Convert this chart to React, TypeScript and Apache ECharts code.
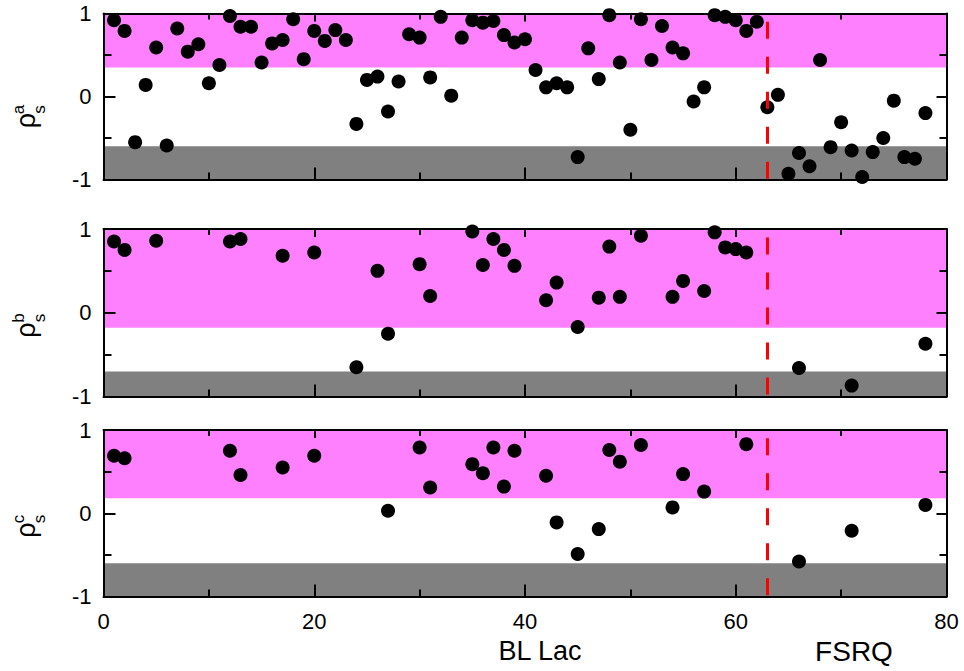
import React, { useEffect, useRef } from "react";
import * as echarts from "echarts";

// Spearman coefficients per source (index 1..78) for the three cases
const rhoA: number[] = [
  0.92, 0.79, -0.55, 0.14, 0.59, -0.59, 0.82, 0.54, 0.63, 0.16,
  0.38, 0.97, 0.84, 0.84, 0.41, 0.64, 0.68, 0.93, 0.45, 0.79,
  0.67, 0.8, 0.68, -0.33, 0.2, 0.24, -0.18, 0.18, 0.75, 0.71,
  0.23, 0.96, 0.01, 0.71, 0.92, 0.89, 0.91, 0.74, 0.65, 0.69,
  0.32, 0.11, 0.16, 0.11, -0.73, 0.58, 0.21, 0.98, 0.41, -0.4,
  0.93, 0.44, 0.85, 0.59, 0.52, -0.06, 0.11, 0.98, 0.96, 0.92,
  0.79, 0.9, -0.13, 0.02, -0.93, -0.68, -0.84, 0.44, -0.61, -0.31,
  -0.65, -0.97, -0.67, -0.5, -0.05, -0.73, -0.75, -0.2,
];

const idxB: number[] = [
  1, 2, 5, 12, 13, 17, 20, 24, 26, 27, 30, 31, 35, 36, 37, 38, 39,
  42, 43, 45, 47, 48, 49, 51, 54, 55, 57, 58, 59, 60, 61, 66, 71, 78,
];
const rhoB: number[] = [
  0.85, 0.75, 0.86, 0.85, 0.88, 0.68, 0.72, -0.65, 0.5, -0.25, 0.58, 0.2, 0.97, 0.57, 0.88, 0.75, 0.56,
  0.15, 0.36, -0.17, 0.18, 0.79, 0.19, 0.92, 0.19, 0.38, 0.26, 0.96, 0.78, 0.76, 0.72, -0.66, -0.87, -0.37,
];

const idxC: number[] = [
  1, 2, 12, 13, 17, 20, 27, 30, 31, 35, 36, 37, 38, 39,
  42, 43, 45, 47, 48, 49, 51, 54, 55, 57, 61, 66, 71, 78,
];
const rhoC: number[] = [
  0.69, 0.66, 0.75, 0.46, 0.55, 0.69, 0.03, 0.79, 0.31, 0.59, 0.48, 0.79, 0.32, 0.75,
  0.45, -0.11, -0.49, -0.19, 0.76, 0.62, 0.82, 0.07, 0.47, 0.26, 0.83, -0.58, -0.21, 0.1,
];

// significance bands per panel: [pink lower bound, gray upper bound]
const pinkLow: number[] = [0.35, -0.18, 0.18];
const grayHigh: number[] = [-0.6, -0.7, -0.6];

const supLetters: string[] = ["a", "b", "c"];
const xTicks: number[] = [0, 20, 40, 60, 80];
const classNames: string[] = ["BL Lac", "FSRQ"];

// boundary between the two source classes
const classSplit = 63;
const splitTop = 0.9;

const FONT = "'Liberation Sans', Arial, sans-serif";
const PINK = "#ff80ff";
const GRAY = "#808080";

const grids = [
  { left: 103.5, top: 13.5, width: 843, height: 166 },
  { left: 103.5, top: 229, width: 843, height: 167.5 },
  { left: 103.5, top: 430, width: 843, height: 166.5 },
];

// title anchor positions for each panel [rho y, sub/sup y]
const titleY: number[][] = [
  [120.5, 109.5],
  [330, 318],
  [530, 519],
];

export default function App() {
  const ref = useRef<HTMLDivElement>(null);

  useEffect(() => {
    if (!ref.current) return;
    const chart = echarts.init(ref.current, undefined, { renderer: "svg" });

    const panels: number[][][] = [
      rhoA.map((v, i) => [i + 1, v]),
      idxB.map((x, i) => [x, rhoB[i]]),
      idxC.map((x, i) => [x, rhoC[i]]),
    ];

    const xAxes: any[] = [];
    const yAxes: any[] = [];
    const series: any[] = [];
    const graphics: any[] = [];

    const tickStyle = { color: "#000", width: 2 };

    panels.forEach((pts, g) => {
      const isLast = g === panels.length - 1;
      const base = {
        gridIndex: g,
        type: "value",
        min: xTicks[0],
        max: xTicks[xTicks.length - 1],
        interval: xTicks[1] - xTicks[0],
        z: 3,
        splitLine: { show: false },
        minorSplitLine: { show: false },
        axisLine: { show: true, onZero: false, lineStyle: { color: "#000", width: 2 } },
      };
      xAxes.push({
        ...base,
        position: "bottom",
        axisTick: { show: true, inside: true, length: 12, lineStyle: tickStyle },
        minorTick: { show: true, splitNumber: 2, length: 7, lineStyle: tickStyle },
        axisLabel: {
          show: isLast,
          color: "#000",
          fontSize: 22,
          fontFamily: FONT,
          margin: 14,
        },
      });
      xAxes.push({
        ...base,
        position: "top",
        axisTick: { show: true, inside: true, length: 8, lineStyle: tickStyle },
        minorTick: { show: true, splitNumber: 2, length: 6, lineStyle: tickStyle },
        axisLabel: { show: false },
      });
      const ybase = {
        gridIndex: g,
        type: "value",
        min: -1,
        max: 1,
        interval: 1,
        z: 3,
        splitLine: { show: false },
        minorSplitLine: { show: false },
        axisLine: { show: true, onZero: false, lineStyle: { color: "#000", width: 2 } },
      };
      yAxes.push({
        ...ybase,
        position: "left",
        axisTick: { show: true, inside: true, length: 12, lineStyle: tickStyle },
        minorTick: { show: true, splitNumber: 2, length: 8, lineStyle: tickStyle },
        axisLabel: { show: true, color: "#000", fontSize: 22, fontFamily: FONT, margin: 12 },
      });
      yAxes.push({
        ...ybase,
        position: "right",
        axisTick: { show: true, inside: true, length: 10, lineStyle: tickStyle },
        minorTick: { show: true, splitNumber: 2, length: 7, lineStyle: tickStyle },
        axisLabel: { show: false },
      });

      const xi = g * 2;
      const yi = g * 2;

      // shaded significance bands
      series.push({
        type: "scatter",
        xAxisIndex: xi,
        yAxisIndex: yi,
        data: [],
        z: 1,
        silent: true,
        markArea: {
          silent: true,
          z: 1,
          data: [
            [{ yAxis: pinkLow[g], itemStyle: { color: PINK, opacity: 1 } }, { yAxis: 1 }],
            [{ yAxis: -1, itemStyle: { color: GRAY, opacity: 1 } }, { yAxis: grayHigh[g] }],
          ],
        },
      });

      series.push({
        type: "scatter",
        xAxisIndex: xi,
        yAxisIndex: yi,
        data: pts,
        z: 5,
        symbol: "circle",
        symbolSize: 14,
        itemStyle: { color: "#000", opacity: 1 },
      });

      // dashed divider between BL Lacs and FSRQs
      series.push({
        type: "scatter",
        xAxisIndex: xi,
        yAxisIndex: yi,
        data: [],
        z: 10,
        silent: true,
        markLine: {
          silent: true,
          z: 10,
          symbol: ["none", "none"],
          label: { show: false },
          lineStyle: { color: "#ff0000", width: 3, type: [17, 18], opacity: 1 },
          data: [[{ coord: [classSplit, splitTop] }, { coord: [classSplit, -1] }]],
        },
      });

      // rotated y-axis title: rho with subscript s and superscript letter
      const [ry, sy] = titleY[g];
      const rotText = (x: number, y: number, text: string, size: number) => ({
        type: "text",
        x,
        y,
        rotation: Math.PI / 2,
        style: {
          text,
          fontSize: size,
          fontFamily: FONT,
          fill: "#000",
          textAlign: "center",
          textVerticalAlign: "middle",
        },
      });
      graphics.push(rotText(25.7, ry, "ρ", 27));
      graphics.push(rotText(39, sy, "s", 17));
      graphics.push(rotText(18, sy, supLetters[g], 17));
    });

    graphics.push({
      type: "text",
      x: 540,
      y: 651,
      style: {
        text: classNames[0],
        fontSize: 27,
        fontFamily: FONT,
        fill: "#000",
        textAlign: "center",
        textVerticalAlign: "middle",
      },
    });
    graphics.push({
      type: "text",
      x: 854,
      y: 651,
      style: {
        text: classNames[1],
        fontSize: 28,
        fontFamily: FONT,
        fill: "#000",
        textAlign: "center",
        textVerticalAlign: "middle",
      },
    });

    chart.setOption({
      animation: false,
      backgroundColor: "#fff",
      grid: grids.map((gr) => ({ ...gr, containLabel: false })),
      xAxis: xAxes,
      yAxis: yAxes,
      series,
      graphic: graphics,
    });

    return () => {
      chart.dispose();
    };
  }, []);

  return (
    <div
      ref={ref}
      style={{ position: "absolute", left: 0, top: 0, width: 964, height: 671 }}
    />
  );
}
